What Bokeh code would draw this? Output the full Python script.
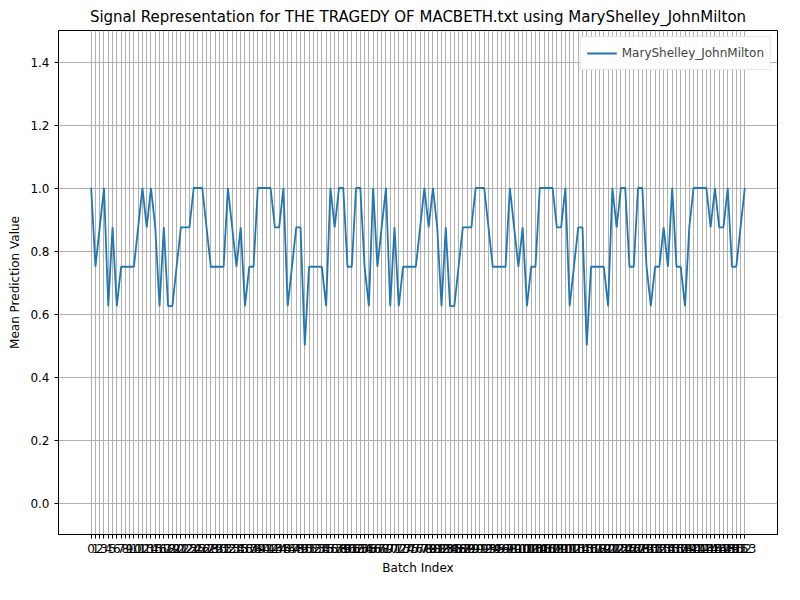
from bokeh.plotting import figure
from bokeh.models import Range1d, FixedTicker, Legend, LegendItem, NumeralTickFormatter
from bokeh.embed import file_html
from bokeh.resources import INLINE

# mean prediction per batch
values = [
    1.0, 0.75, 0.875, 1.0, 0.625, 0.875, 0.625, 0.75, 0.75, 0.75,
    0.75, 0.875, 1.0, 0.875, 1.0, 0.875, 0.625, 0.875, 0.625, 0.625,
    0.75, 0.875, 0.875, 0.875, 1.0, 1.0, 1.0, 0.875, 0.75, 0.75,
    0.75, 0.75, 1.0, 0.875, 0.75, 0.875, 0.625, 0.75, 0.75, 1.0,
    1.0, 1.0, 1.0, 0.875, 0.875, 1.0, 0.625, 0.75, 0.875, 0.875,
    0.5, 0.75, 0.75, 0.75, 0.75, 0.625, 1.0, 0.875, 1.0, 1.0,
    0.75, 0.75, 1.0, 1.0, 0.75, 0.625, 1.0, 0.75, 0.875, 1.0,
    0.625, 0.875, 0.625, 0.75, 0.75, 0.75, 0.75, 0.875, 1.0, 0.875,
    1.0, 0.875, 0.625, 0.875, 0.625, 0.625, 0.75, 0.875, 0.875, 0.875,
    1.0, 1.0, 1.0, 0.875, 0.75, 0.75, 0.75, 0.75, 1.0, 0.875,
    0.75, 0.875, 0.625, 0.75, 0.75, 1.0, 1.0, 1.0, 1.0, 0.875,
    0.875, 1.0, 0.625, 0.75, 0.875, 0.875, 0.5, 0.75, 0.75, 0.75,
    0.75, 0.625, 1.0, 0.875, 1.0, 1.0, 0.75, 0.75, 1.0, 1.0,
    0.75, 0.625, 0.75, 0.75, 0.875, 0.75, 1.0, 0.75, 0.75, 0.625,
    0.875, 1.0, 1.0, 1.0, 1.0, 0.875, 1.0, 0.875, 0.875, 1.0,
    0.75, 0.75, 0.875, 1.0,
]
batches = list(range(len(values)))
y_ticks = [0.0, 0.2, 0.4, 0.6, 0.8, 1.0, 1.2, 1.4]
series_name = "MaryShelley_JohnMilton"

n = len(values) - 1
pad = n * 0.05

p = figure(width=784, height=584, output_backend="svg", toolbar_location=None,
           title="Signal Representation for THE TRAGEDY OF MACBETH.txt using MaryShelley_JohnMilton",
           x_range=Range1d(-pad, n + pad), y_range=Range1d(-0.1, 1.5),
           x_axis_label="Batch Index", y_axis_label="Mean Prediction Value",
           min_border_left=58, min_border_right=7, min_border_top=30, min_border_bottom=50)
p.title.text_font = "DejaVu Sans"
p.title.text_font_size = "15px"
p.title.text_font_style = "normal"
p.title.text_color = "black"
p.title.align = "center"
p.outline_line_color = "black"

for ax in (p.xaxis, p.yaxis):
    ax.axis_label_text_font = "DejaVu Sans"
    ax.axis_label_text_font_size = "12px"
    ax.axis_label_text_font_style = "normal"
    ax.axis_label_text_color = "black"
    ax.major_label_text_font = "DejaVu Sans"
    ax.major_label_text_font_size = "12px"
    ax.major_label_text_color = "black"
    ax.minor_tick_line_color = None
    ax.major_tick_in = 0
    ax.major_tick_out = 4
    ax.axis_line_color = "black"

p.xaxis.ticker = FixedTicker(ticks=batches)
p.yaxis.ticker = FixedTicker(ticks=y_ticks)
p.yaxis.formatter = NumeralTickFormatter(format="0.0")

p.grid.grid_line_color = "#b0b0b0"
p.grid.grid_line_width = 1

r = p.line(batches, values, line_color="#1f77b4", line_width=1.8)

legend = Legend(items=[LegendItem(label=series_name, renderers=[r])],
                location="top_right", label_text_font="DejaVu Sans",
                label_text_font_size="12px", border_line_color="#cccccc",
                glyph_width=30, padding=6, spacing=0, margin=6)
p.add_layout(legend)

open("out.html", "w").write(file_html(p, INLINE))
